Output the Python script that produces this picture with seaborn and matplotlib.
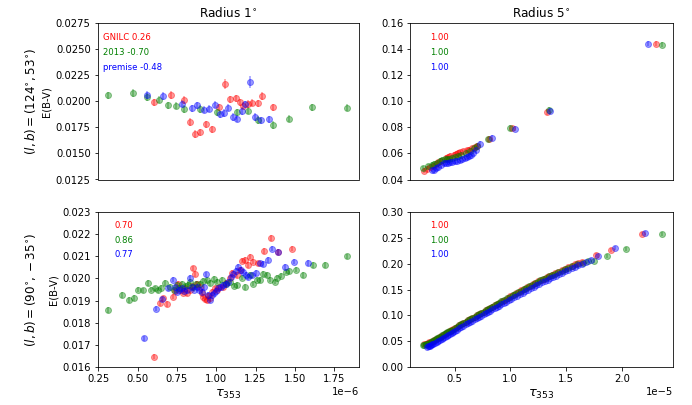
import numpy as np
import pandas as pd
import matplotlib
matplotlib.use("Agg")
import matplotlib.pyplot as plt
import seaborn as sns

# ---------------- data (x in units of the axis multiplier) ----------------
# Top-left: (l,b)=(124,53), radius 1 deg  (x * 1e-6)
tl_red_x = [0.606, 0.714, 0.795, 0.835, 0.867, 0.897, 0.933, 0.975, 1.020, 1.056, 1.088, 1.124,
            1.150, 1.172, 1.200, 1.230, 1.264, 1.293, 1.363]
tl_red_y = [0.01990, 0.02060, 0.02012, 0.01800, 0.01687, 0.01703, 0.01778, 0.01732, 0.01942, 0.02164,
            0.02019, 0.02028, 0.01990, 0.01957, 0.01975, 0.01986, 0.01980, 0.02051, 0.01942]
tl_red_e = [0.00035, 0.00035, 0.00035, 0.00035, 0.00035, 0.00035, 0.00035, 0.00035, 0.00035, 0.00050,
            0.00035, 0.00035, 0.00035, 0.00035, 0.00035, 0.00035, 0.00035, 0.00035, 0.00035]
tl_green_x = [0.314, 0.469, 0.562, 0.638, 0.691, 0.744, 0.797, 0.897, 1.007, 1.130, 1.200, 1.268,
              1.359, 1.463, 1.608, 1.833]
tl_green_y = [0.02057, 0.02080, 0.02041, 0.02015, 0.01961, 0.01957, 0.01925, 0.01925, 0.01893, 0.01893,
              0.01909, 0.01819, 0.01771, 0.01832, 0.01942, 0.01937]
tl_green_e = [0.00035] * 16
tl_blue_x = [0.558, 0.664, 0.780, 0.846, 0.880, 0.922, 0.956, 0.994, 1.024, 1.050, 1.073, 1.105,
             1.132, 1.162, 1.185, 1.217, 1.249, 1.287, 1.338]
tl_blue_y = [0.02060, 0.02051, 0.01976, 0.01932, 0.01961, 0.01918, 0.01928, 0.01967, 0.01874, 0.01887,
             0.01938, 0.01848, 0.01832, 0.01906, 0.01971, 0.02183, 0.01848, 0.01816, 0.01826]
tl_blue_e = [0.00035, 0.00035, 0.00035, 0.00035, 0.00035, 0.00035, 0.00035, 0.00035, 0.00035, 0.00035,
             0.00035, 0.00035, 0.00035, 0.00035, 0.00035, 0.00060, 0.00035, 0.00035, 0.00035]

# Bottom-left: (l,b)=(90,-35), radius 1 deg  (x * 1e-6)
bl_red_x = [0.607, 0.643, 0.664, 0.685, 0.727, 0.740, 0.759, 0.775, 0.790, 0.801, 0.812, 0.833, 0.845,
            0.855, 0.865, 0.880, 0.897, 0.910, 0.918, 0.930, 0.939, 0.950, 0.960, 0.971, 0.990, 1.003,
            1.020, 1.045, 1.065, 1.088, 1.100, 1.130, 1.150, 1.162, 1.183, 1.200, 1.215, 1.236, 1.268,
            1.306, 1.349, 1.395, 1.480]
bl_red_y = [0.01647, 0.01887, 0.01910, 0.01884, 0.01917, 0.01945, 0.01977, 0.01950, 0.01935, 0.01955,
            0.01932, 0.01947, 0.01965, 0.02045, 0.02020, 0.01975, 0.01962, 0.01935, 0.01917, 0.01905,
            0.01902, 0.01920, 0.01910, 0.01940, 0.01955, 0.01947, 0.01960, 0.01962, 0.01980, 0.02000,
            0.02025, 0.02015, 0.02040, 0.02080, 0.02083, 0.02060, 0.02098, 0.02075, 0.02068, 0.02124,
            0.02183, 0.02120, 0.02135]
bl_green_x = [0.314, 0.403, 0.448, 0.479, 0.505, 0.532, 0.568, 0.583, 0.611, 0.632, 0.647, 0.675, 0.707,
              0.730, 0.749, 0.765, 0.780, 0.800, 0.818, 0.833, 0.850, 0.870, 0.897, 0.915, 0.939, 0.960,
              0.986, 1.005, 1.035, 1.060, 1.088, 1.110, 1.130, 1.162, 1.183, 1.215, 1.236, 1.258, 1.279,
              1.300, 1.321, 1.342, 1.374, 1.385, 1.410, 1.444, 1.465, 1.507, 1.554, 1.618, 1.692, 1.833]
bl_green_y = [0.01857, 0.01925, 0.01902, 0.01911, 0.01950, 0.01947, 0.01980, 0.01950, 0.01955, 0.01947,
              0.01959, 0.01980, 0.01962, 0.01950, 0.01970, 0.01958, 0.01977, 0.01965, 0.01972, 0.01985,
              0.01960, 0.01975, 0.01977, 0.01990, 0.01993, 0.01980, 0.01998, 0.01985, 0.01993, 0.01975,
              0.01985, 0.01968, 0.01970, 0.02004, 0.01962, 0.02015, 0.01977, 0.01995, 0.01993, 0.02020,
              0.02015, 0.01995, 0.01985, 0.02004, 0.02013, 0.02030, 0.02034, 0.02040, 0.02015, 0.02060,
              0.02060, 0.02100]
bl_blue_x = [0.543, 0.617, 0.653, 0.696, 0.723, 0.735, 0.749, 0.765, 0.780, 0.795, 0.812, 0.833, 0.845,
             0.860, 0.876, 0.890, 0.907, 0.920, 0.935, 0.948, 0.960, 0.975, 0.986, 1.000, 1.014, 1.030,
             1.045, 1.060, 1.077, 1.093, 1.109, 1.125, 1.141, 1.157, 1.173, 1.188, 1.204, 1.230, 1.253,
             1.279, 1.300, 1.327, 1.356, 1.395, 1.437, 1.494, 1.585]
bl_blue_y = [0.01729, 0.01864, 0.01905, 0.01955, 0.01995, 0.01960, 0.01940, 0.01950, 0.01955, 0.01945,
             0.01947, 0.02004, 0.01960, 0.01950, 0.01962, 0.01950, 0.01940, 0.01960, 0.02018, 0.01925,
             0.01902, 0.01925, 0.01932, 0.01945, 0.01955, 0.01962, 0.01970, 0.01975, 0.01985, 0.02005,
             0.02022, 0.02035, 0.02052, 0.02040, 0.02030, 0.02015, 0.02007, 0.02015, 0.02025, 0.02068,
             0.02065, 0.02083, 0.02135, 0.02120, 0.02052, 0.02076, 0.02070]

# Top-right: (l,b)=(124,53), radius 5 deg  (x * 1e-5)
tr_red_x = [0.222, 0.250, 0.280, 0.305, 0.330, 0.355, 0.380, 0.420, 0.440, 0.460, 0.491, 0.510, 0.530,
            0.550, 0.575, 0.610, 0.630, 0.655, 0.680, 0.700, 0.805, 1.017, 1.327, 2.307]
tr_red_y = [0.0467, 0.0480, 0.0495, 0.0507, 0.0520, 0.0532, 0.0545, 0.0565, 0.0572, 0.0580, 0.0589,
            0.0597, 0.0605, 0.0610, 0.0617, 0.0625, 0.0630, 0.0638, 0.0648, 0.0658, 0.0710, 0.0792,
            0.0918, 0.1440]
tr_green_x = [0.216, 0.260, 0.297, 0.320, 0.340, 0.372, 0.390, 0.410, 0.430, 0.450, 0.475, 0.500, 0.530,
              0.560, 0.600, 0.640, 0.670, 0.700, 0.796, 0.999, 1.345, 2.358]
tr_green_y = [0.0485, 0.0500, 0.0511, 0.0522, 0.0530, 0.0545, 0.0550, 0.0555, 0.0558, 0.0560, 0.0568,
              0.0575, 0.0582, 0.0590, 0.0605, 0.0620, 0.0640, 0.0655, 0.0708, 0.0795, 0.0934, 0.1435]
tr_blue_x = [0.300, 0.312, 0.330, 0.350, 0.375, 0.401, 0.420, 0.440, 0.461, 0.480, 0.500, 0.525, 0.551,
             0.570, 0.590, 0.610, 0.630, 0.650, 0.664, 0.690, 0.730, 0.838, 1.041, 1.354, 2.238]
tr_blue_y = [0.0475, 0.0470, 0.0485, 0.0495, 0.0510, 0.0524, 0.0528, 0.0530, 0.0537, 0.0538, 0.0540,
             0.0545, 0.0550, 0.0557, 0.0565, 0.0572, 0.0580, 0.0590, 0.0600, 0.0625, 0.0676, 0.0718,
             0.0790, 0.0926, 0.1440]

# Bottom-right: (l,b)=(90,-35), radius 5 deg  (x * 1e-5)
br_red_x = [0.23, 0.245, 0.26, 0.275, 0.29, 0.305, 0.32, 0.335, 0.35, 0.365, 0.38, 0.395, 0.41, 0.425,
            0.44, 0.455, 0.47, 0.485, 0.50, 0.52, 0.54, 0.56, 0.58, 0.60, 0.62, 0.64, 0.66, 0.68, 0.70,
            0.72, 0.74, 0.76, 0.78, 0.80, 0.82, 0.84, 0.86, 0.88, 0.90, 0.925, 0.95, 0.975, 1.00, 1.025,
            1.05, 1.075, 1.10, 1.125, 1.15, 1.175, 1.20, 1.225, 1.25, 1.275, 1.30, 1.325, 1.35, 1.375,
            1.40, 1.43, 1.46, 1.49, 1.52, 1.55, 1.58, 1.61, 1.64, 1.769, 1.900, 2.182]
br_red_y = [0.0445, 0.0452, 0.0465, 0.0476, 0.0490, 0.0508, 0.0525, 0.0541, 0.0560, 0.0578, 0.0598,
            0.0617, 0.0638, 0.0654, 0.0672, 0.0690, 0.0710, 0.0729, 0.0752, 0.0776, 0.0805, 0.0828,
            0.0855, 0.0879, 0.0905, 0.0926, 0.0950, 0.0976, 0.1000, 0.1023, 0.1048, 0.1070, 0.1095,
            0.1118, 0.1143, 0.1170, 0.1195, 0.1220, 0.1245, 0.1276, 0.1305, 0.1336, 0.1365, 0.1396,
            0.1425, 0.1456, 0.1485, 0.1514, 0.1545, 0.1571, 0.1600, 0.1628, 0.1655, 0.1684, 0.1712,
            0.1738, 0.1765, 0.1790, 0.1815, 0.1842, 0.1870, 0.1903, 0.1935, 0.1962, 0.1990, 0.2015,
            0.2040, 0.2174, 0.2271, 0.2567]
br_green_x = [0.216, 0.228, 0.24, 0.255, 0.27, 0.285, 0.30, 0.315, 0.33, 0.345, 0.36, 0.375, 0.39, 0.405,
              0.42, 0.435, 0.45, 0.465, 0.48, 0.50, 0.52, 0.54, 0.56, 0.58, 0.60, 0.62, 0.64, 0.66, 0.68,
              0.70, 0.72, 0.74, 0.76, 0.78, 0.80, 0.82, 0.84, 0.86, 0.88, 0.90, 0.92, 0.945, 0.97, 0.995,
              1.02, 1.045, 1.07, 1.095, 1.12, 1.145, 1.17, 1.195, 1.22, 1.245, 1.27, 1.295, 1.32, 1.345,
              1.37, 1.40, 1.43, 1.46, 1.49, 1.52, 1.55, 1.60, 1.65, 1.70, 1.754, 1.865, 2.041, 2.358]
br_green_y = [0.0420, 0.0430, 0.0440, 0.0450, 0.0462, 0.0478, 0.0495, 0.0515, 0.0535, 0.0553, 0.0572,
              0.0590, 0.0610, 0.0630, 0.0650, 0.0668, 0.0688, 0.0706, 0.0725, 0.0752, 0.0780, 0.0804,
              0.0830, 0.0856, 0.0880, 0.0903, 0.0928, 0.0951, 0.0975, 0.1000, 0.1025, 0.1048, 0.1072,
              0.1096, 0.1120, 0.1145, 0.1170, 0.1197, 0.1222, 0.1246, 0.1270, 0.1300, 0.1330, 0.1360,
              0.1390, 0.1420, 0.1450, 0.1479, 0.1508, 0.1537, 0.1565, 0.1592, 0.1620, 0.1648, 0.1675,
              0.1703, 0.1730, 0.1755, 0.1780, 0.1808, 0.1835, 0.1865, 0.1895, 0.1922, 0.1950, 0.1985,
              0.2020, 0.2060, 0.2045, 0.2142, 0.2284, 0.2574]
br_blue_x = [0.25, 0.26, 0.27, 0.28, 0.29, 0.30, 0.31, 0.325, 0.34, 0.355, 0.37, 0.385, 0.40, 0.415, 0.43,
             0.445, 0.46, 0.475, 0.49, 0.505, 0.52, 0.54, 0.56, 0.58, 0.60, 0.62, 0.64, 0.66, 0.68, 0.70,
             0.72, 0.74, 0.76, 0.78, 0.80, 0.82, 0.84, 0.86, 0.88, 0.90, 0.92, 0.94, 0.96, 0.985, 1.01,
             1.035, 1.06, 1.085, 1.11, 1.135, 1.16, 1.185, 1.21, 1.235, 1.26, 1.285, 1.31, 1.335, 1.36,
             1.385, 1.41, 1.435, 1.46, 1.49, 1.52, 1.55, 1.58, 1.61, 1.64, 1.68, 1.72, 1.790, 1.943, 2.211]
br_blue_y = [0.0390, 0.0397, 0.0405, 0.0414, 0.0425, 0.0437, 0.0450, 0.0469, 0.0488, 0.0506, 0.0525,
             0.0545, 0.0565, 0.0584, 0.0602, 0.0621, 0.0640, 0.0660, 0.0680, 0.0701, 0.0722, 0.0748,
             0.0775, 0.0800, 0.0825, 0.0850, 0.0875, 0.0898, 0.0922, 0.0946, 0.0970, 0.0994, 0.1018,
             0.1041, 0.1065, 0.1090, 0.1115, 0.1140, 0.1165, 0.1190, 0.1215, 0.1238, 0.1262, 0.1292,
             0.1322, 0.1352, 0.1382, 0.1411, 0.1440, 0.1470, 0.1500, 0.1527, 0.1555, 0.1582, 0.1610,
             0.1638, 0.1665, 0.1692, 0.1718, 0.1744, 0.1770, 0.1797, 0.1825, 0.1855, 0.1885, 0.1915,
             0.1945, 0.1972, 0.2000, 0.2033, 0.2065, 0.2155, 0.2303, 0.2587]

# correlation annotations
tl_labels = ["GNILC 0.26", "2013 -0.70", "premise -0.48"]
tr_labels = ["1.00", "1.00", "1.00"]
bl_labels = ["0.70", "0.86", "0.77"]
br_labels = ["1.00", "1.00", "1.00"]

col_titles = ["Radius $1^{\\circ}$", "Radius $5^{\\circ}$"]
row_labels = ["$(l, b) = (124^{\\circ}, 53^{\\circ})$", "$(l, b) = (90^{\\circ}, -35^{\\circ})$"]
colors = ["r", "g", "b"]

# ---------------- style ----------------
sns.set_style("ticks")
plt.rcParams.update({
    "font.family": ["DejaVu Sans"],
    "font.size": 10,
    "axes.edgecolor": "black",
    "axes.linewidth": 0.8,
    "xtick.color": "black",
    "ytick.color": "black",
    "axes.labelcolor": "black",
    "text.color": "black",
    "xtick.major.size": 3.5,
    "ytick.major.size": 3.5,
    "xtick.major.width": 0.8,
    "ytick.major.width": 0.8,
})

fig, axes = plt.subplots(2, 2, figsize=(692 / 72, 405 / 72), dpi=72, sharex="col")
W, H = 692.0, 405.0
lx0, lx1 = 97.7, 359.0
rx0, rx1 = 410.3, 672.7
ty0, ty1 = 23.0, 179.5
by0, by1 = 212.0, 367.0
axes[0, 0].set_position([lx0 / W, 1 - ty1 / H, (lx1 - lx0) / W, (ty1 - ty0) / H])
axes[0, 1].set_position([rx0 / W, 1 - ty1 / H, (rx1 - rx0) / W, (ty1 - ty0) / H])
axes[1, 0].set_position([lx0 / W, 1 - by1 / H, (lx1 - lx0) / W, (by1 - by0) / H])
axes[1, 1].set_position([rx0 / W, 1 - by1 / H, (rx1 - rx0) / W, (by1 - by0) / H])


def draw(ax, xs, ys, errs, scale):
    for x, y, e, c in zip(xs, ys, errs, colors):
        df = pd.DataFrame({"tau": np.asarray(x) * scale, "ebv": y})
        ax.errorbar(df["tau"], df["ebv"], yerr=e, fmt="none", ecolor=c, alpha=0.4, elinewidth=1.5)
        sns.scatterplot(data=df, x="tau", y="ebv", ax=ax, color=c, alpha=0.4, s=36,
                        edgecolor=c, linewidth=1.0, legend=False, zorder=3)


draw(axes[0, 0], [tl_red_x, tl_green_x, tl_blue_x], [tl_red_y, tl_green_y, tl_blue_y],
     [tl_red_e, tl_green_e, tl_blue_e], 1e-6)
draw(axes[1, 0], [bl_red_x, bl_green_x, bl_blue_x], [bl_red_y, bl_green_y, bl_blue_y],
     [0.00012, 0.00012, 0.00012], 1e-6)
draw(axes[0, 1], [tr_red_x, tr_green_x, tr_blue_x], [tr_red_y, tr_green_y, tr_blue_y],
     [0.002, 0.002, 0.002], 1e-5)
draw(axes[1, 1], [br_red_x, br_green_x, br_blue_x], [br_red_y, br_green_y, br_blue_y],
     [0.004, 0.004, 0.004], 1e-5)

# limits and ticks
axes[0, 0].set_xlim(0.246e-6, 1.908e-6)
axes[0, 1].set_xlim(0.103e-5, 2.457e-5)
axes[0, 0].set_ylim(0.0125, 0.0275)
axes[1, 0].set_ylim(0.016, 0.023)
axes[0, 1].set_ylim(0.04, 0.16)
axes[1, 1].set_ylim(0.0, 0.30)
axes[0, 0].set_yticks(np.arange(0.0125, 0.02751, 0.0025))
axes[1, 0].set_yticks(np.arange(0.016, 0.02301, 0.001))
axes[0, 1].set_yticks(np.arange(0.04, 0.1601, 0.02))
axes[1, 1].set_yticks(np.arange(0.0, 0.3001, 0.05))

for ax in axes[0]:
    ax.tick_params(axis="x", which="both", bottom=False, labelbottom=False)
    ax.set_xlabel("")
for ax in axes[1]:
    ax.set_xlabel("$\\tau_{353}$", fontsize=13)
for ax in axes.flat:
    ax.set_ylabel("")
    for s in ax.spines.values():
        s.set_visible(True)
        s.set_color("black")
        s.set_linewidth(0.8)
axes[0, 0].set_ylabel("E(B-V)")
axes[1, 0].set_ylabel("E(B-V)")

for j, t in enumerate(col_titles):
    axes[0, j].set_title(t, fontsize=12)

# annotations
label_sets = {(0, 0): (tl_labels, 0.019, [0.906, 0.813, 0.718]),
              (0, 1): (tr_labels, 0.076, [0.906, 0.813, 0.718]),
              (1, 0): (bl_labels, 0.066, [0.916, 0.819, 0.724]),
              (1, 1): (br_labels, 0.076, [0.916, 0.819, 0.724])}
for (i, j), (labs, xx, yys) in label_sets.items():
    for lab, yy, c in zip(labs, yys, colors):
        axes[i, j].text(xx, yy, lab, color=c, fontsize=8.5, transform=axes[i, j].transAxes,
                        ha="left", va="center")

# row labels
fig.text(30 / W, 1 - ((ty0 + ty1) / 2) / H, row_labels[0], rotation=90, ha="center", va="center",
         fontsize=12)
fig.text(30 / W, 1 - ((by0 + by1) / 2) / H, row_labels[1], rotation=90, ha="center", va="center",
         fontsize=12)

fig.savefig("out.png", dpi=72)
